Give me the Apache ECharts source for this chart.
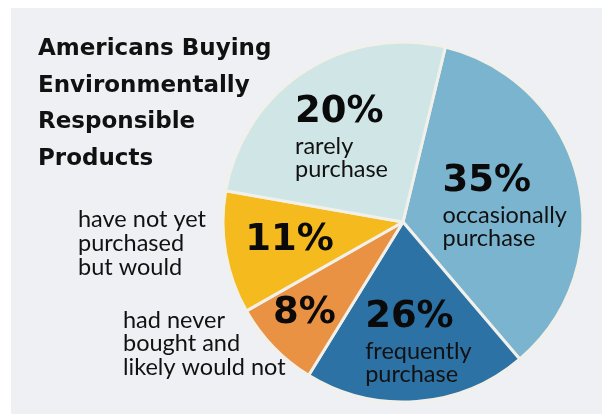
<!DOCTYPE html>
<html>
<head>
<meta charset="utf-8">
<script src="https://cdn.jsdelivr.net/npm/echarts@6/dist/echarts.min.js"></script>
<style>
  html, body { margin: 0; padding: 0; background: #fff; }
  #chart { width: 602px; height: 414px; }
</style>
</head>
<body>
<div id="chart"></div>
<script>
// slices in clockwise order from the top, sizes as drawn
var names = ['occasionally', 'frequently', 'never', 'notYet', 'rarely'];
var sizes = [35, 20, 8, 11, 26];
// printed labels
var pctLabels = ['35%', '26%', '8%', '11%', '20%'];
var subLabels = ['occasionally\npurchase', 'frequently\npurchase', '', '', 'rarely\npurchase'];
var colors = ['#7ab4cf', '#2d72a5', '#ea9244', '#f4ba1e', '#cfe5e6'];
var titleText = 'Americans Buying\nEnvironmentally\nResponsible\nProducts';
var notYetText = 'have not yet\npurchased\nbut would';
var neverText = 'had never\nbought and\nlikely would not';

// label shift from the slice's inner anchor (left edge / vertical middle of block)
var offsets = [[-51, 3.5], [-45, 25.5], [-63, 26.5], [-66, 3], [-57, -8.5]];

var chart = echarts.init(document.getElementById('chart'));

var data = [];
for (var i = 0; i < names.length; i++) {
  var txt = '{pct|' + pctLabels[i] + '}';
  if (subLabels[i]) {
    txt += '\n' + subLabels[i].split('\n').map(function (s) { return '{sub|' + s + '}'; }).join('\n');
  }
  data.push({
    name: names[i],
    value: sizes[i],
    itemStyle: { color: colors[i] },
    label: { formatter: txt }
  });
}

var option = {
  backgroundColor: '#fff',
  animation: false,
  graphic: [
    { type: 'rect', z: -10, silent: true, shape: { x: 11, y: 8, width: 591, height: 406 }, style: { fill: '#eef0f4' } },
    { type: 'text', left: 38, top: 31, style: { text: titleText, font: 'bold 23px "DejaVu Sans"', fill: '#111', lineHeight: 36.5 } },
    { type: 'text', left: 78, top: 207, style: { text: notYetText, font: '23.5px Lato', fill: '#111', lineHeight: 24 } },
    { type: 'text', left: 123, top: 308, style: { text: neverText, font: '23.5px Lato', fill: '#111', lineHeight: 23.5 } }
  ],
  series: [{
    type: 'pie',
    center: [403, 222],
    radius: 180,
    startAngle: 76.4,
    clockwise: true,
    silent: true,
    itemStyle: { borderColor: '#f1f0ea', borderWidth: 3 },
    label: {
      show: true,
      position: 'inside',
      rich: {
        pct: { fontFamily: 'DejaVu Sans', fontWeight: 'bold', fontSize: 37, lineHeight: 45, color: '#0a0a0a', align: 'left' },
        sub: { fontFamily: 'Lato', fontSize: 23.5, lineHeight: 23, color: '#111', align: 'left' }
      }
    },
    labelLayout: function (params) {
      var o = offsets[params.dataIndex];
      return { align: 'left', verticalAlign: 'middle', dx: o[0], dy: o[1] };
    },
    labelLine: { show: false },
    data: data
  }]
};

chart.setOption(option);
</script>
</body>
</html>
